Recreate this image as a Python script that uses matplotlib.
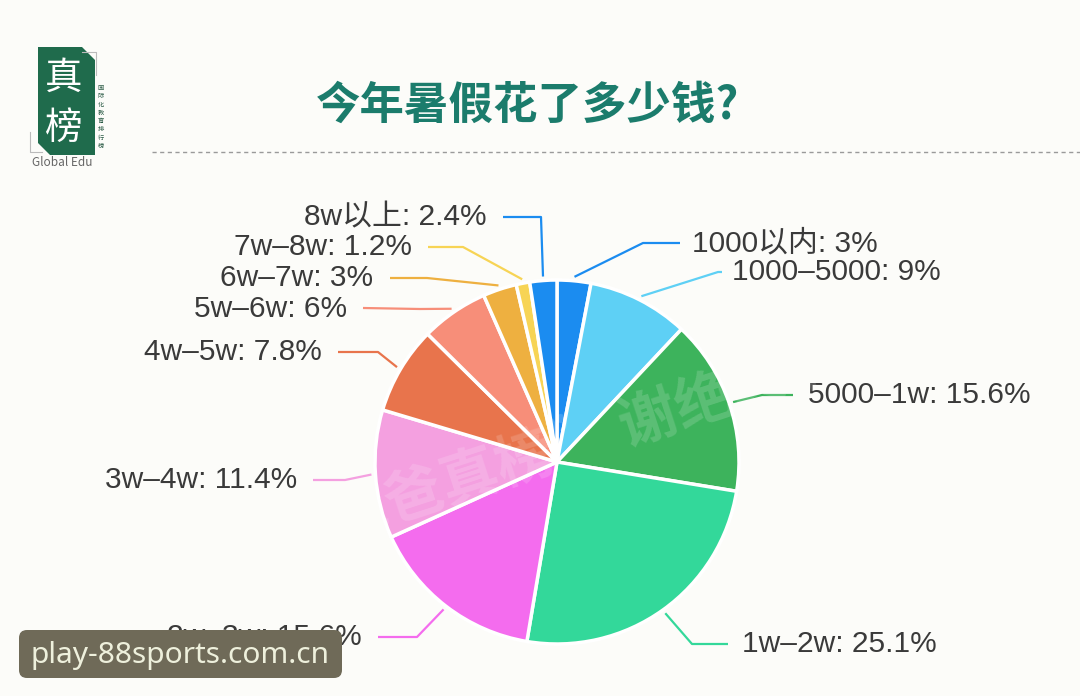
import matplotlib
matplotlib.use("Agg")
import matplotlib.pyplot as plt
import numpy as np
from matplotlib.patches import FancyBboxPatch, Polygon

plt.rcParams['font.family'] = ['Noto Sans CJK SC', 'DejaVu Sans']

# ---------------- data ----------------
categories = ["1000以内", "1000–5000", "5000–1w", "1w–2w", "2w–3w", "3w–4w",
              "4w–5w", "5w–6w", "6w–7w", "7w–8w", "8w以上"]
values = [3, 9, 15.6, 25.1, 15.6, 11.4, 7.8, 6, 3, 1.2, 2.4]
value_labels = ["3%", "9%", "15.6%", "25.1%", "15.6%", "11.4%", "7.8%", "6%", "3%", "1.2%", "2.4%"]
title = "今年暑假花了多少钱?"

# ---------------- styles / layout ----------------
colors = ["#1b8cf0", "#5ed0f5", "#3db35c", "#33d89a", "#f46cee", "#f4a0e0",
          "#e8744c", "#f78e79", "#eeb040", "#f7d455", "#1b8cf0"]
W, H = 1080, 696
def Y(y):
    return H - y

# elbow point, line end, text anchor x (image px coords), side
elbows = [(643, 243), (718, 272), (762, 395), (692, 644), (417, 637), (345, 480),
          (378, 352), (420, 309), (427, 278), (463, 247), (541, 217)]
ends = [(680, 243), (722, 272), (793, 395), (728, 644), (378, 637), (313, 480),
        (338, 352), (363, 308), (390, 278), (428, 247), (503, 217)]
text_x = [692, 732, 808, 742, 362, 297, 322, 347, 373, 412, 487]
sides = ['L', 'L', 'L', 'L', 'R', 'R', 'R', 'R', 'R', 'R', 'R']
label_font = ['Liberation Sans', 'Noto Sans CJK SC']

fig = plt.figure(figsize=(W / 100, H / 100), dpi=100)
fig.patch.set_facecolor("#fcfcf9")
ax = fig.add_axes([0, 0, 1, 1])
ax.set_facecolor("#fcfcf9")

cx, cy, R = 557, Y(462), 182
wedges, _ = ax.pie(values, colors=colors, startangle=90, counterclock=False,
                   center=(cx, cy), radius=R,
                   wedgeprops=dict(edgecolor="white", linewidth=2.5))
ax.set_xlim(0, W)
ax.set_ylim(0, H)
ax.set_aspect('equal')
ax.axis('off')

for i, w in enumerate(wedges):
    mid = np.deg2rad((w.theta1 + w.theta2) / 2)
    sx, sy = cx + (R + 4) * np.cos(mid), cy + (R + 4) * np.sin(mid)
    ex, ey = elbows[i]
    fx, fy = ends[i]
    ax.plot([sx, ex, fx], [sy, Y(ey), Y(fy)], color=colors[i], lw=1.6,
            solid_capstyle='butt', zorder=1)
    ha = 'left' if sides[i] == 'L' else 'right'
    ax.text(text_x[i], Y(ey), f"{categories[i]}: {value_labels[i]}", ha=ha,
            va='center', fontsize=21.5, color="#3a3a3a", family=label_font, zorder=3)

# title
ax.text(528, Y(106), title, ha='center', va='center', fontsize=32,
        fontweight='bold', color="#1b7c6c")
# dashed separator
ax.plot([152, W], [Y(152), Y(152)], color="#9a9a9a", lw=1.0, ls=(0, (3, 2.5)))

# logo
logo = Polygon([(38, Y(47)), (82, Y(47)), (95, Y(60)), (95, Y(155)), (50, Y(155)), (38, Y(143))],
               closed=True, facecolor="#1f6b4c", edgecolor='none')
ax.add_patch(logo)
ax.text(64, Y(78), "真", ha='center', va='center', fontsize=27, color='white')
ax.text(64, Y(128), "榜", ha='center', va='center', fontsize=27, color='white')
ax.text(101, Y(117), "国\n际\n化\n教\n育\n排\n行\n榜", ha='center', va='center',
        fontsize=4.5, color="#2a5a45", linespacing=1.05)
ax.plot([82, 96, 96], [Y(52), Y(52), Y(75)], color="#bbbbbb", lw=0.8)
ax.plot([30, 30, 42], [Y(132), Y(152), Y(152)], color="#bbbbbb", lw=0.8)
ax.text(62, Y(162), "Global Edu", ha='center', va='center', fontsize=8.5, color="#666666")

# watermark
ax.text(560, Y(450), "“爸爸真榜” 谢绝转载", ha='center', va='center', fontsize=42,
        rotation=18, color="white", alpha=0.16, fontweight='bold', zorder=4)

# bottom-left badge
badge = FancyBboxPatch((19, Y(678)), 323, 48,
                       boxstyle="round,pad=0,rounding_size=8",
                       facecolor="#6f6a58", edgecolor='none', zorder=5)
ax.add_patch(badge)
ax.text(180, Y(656), "play-88sports.com.cn", ha='center', va='center', fontsize=21.5,
        family=['Noto Sans', 'DejaVu Sans'], color="#eef0dc", zorder=6)

fig.savefig("out.png", dpi=100, facecolor=fig.get_facecolor())
